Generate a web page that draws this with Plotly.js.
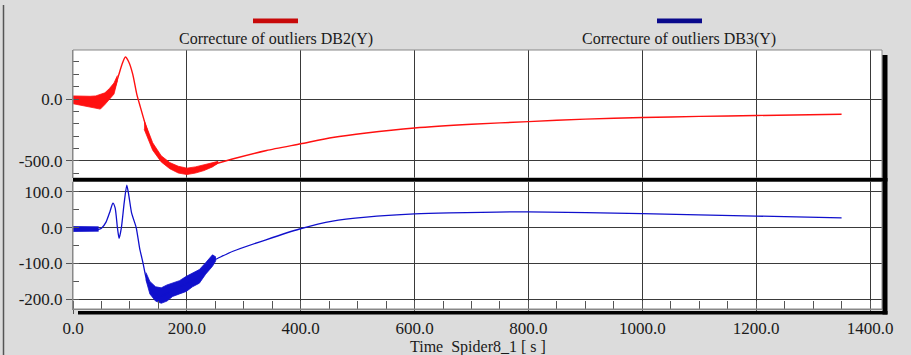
<!DOCTYPE html>
<html>
<head>
<meta charset="utf-8">
<script src="https://cdn.plot.ly/plotly-3.0.1.min.js"></script>
<style>html,body{margin:0;padding:0;background:#dcdcdc;}#chart{width:911px;height:355px;}</style>
</head>
<body>
<div id="chart"></div>
<script>
// ---- data ----
const seriesNames = ["Correcture of outliers DB2(Y)", "Correcture of outliers DB3(Y)"];

// DB2 (red) main curve
const db2X = [0, 20, 40, 50, 60, 70, 80, 86, 92, 98, 105, 112, 118, 128, 140, 152, 164, 180, 200, 222, 245, 280, 340, 400, 456, 515, 600, 700, 800, 900, 1000, 1100, 1200, 1350];
const db2Y = [-5, -15, -25, -25, -5, 50, 190, 280, 340, 300, 200, 40, -60, -220, -385, -478, -532, -570, -585, -560, -532, -486, -417, -363, -312, -275, -235, -205, -183, -163, -150, -141, -134, -123];
// DB2 noisy band near the start
const db2BandAX = [0, 10, 20, 30, 40, 48, 56, 64, 72, 78];
const db2BandAHi = [25, 22, 20, 22, 25, 35, 50, 85, 130, 190];
const db2BandALo = [-38, -48, -56, -65, -75, -82, -45, 0, 40, 150];
// DB2 noisy band around the minimum
const db2BandBX = [125, 140, 155, 170, 185, 200, 215, 230, 245, 255];
const db2BandBHi = [-175, -355, -460, -515, -545, -560, -550, -535, -515, -505];
const db2BandBLo = [-245, -415, -510, -565, -600, -612, -600, -580, -550, -520];

// DB3 (blue) main curve
const db3X = [0, 45, 50, 58, 65, 70, 74, 78, 81, 85, 90, 94.5, 98, 103, 111, 117, 123, 130, 140, 150, 160, 175, 199, 222, 245, 251, 281, 339, 398, 456, 515, 600, 661, 800, 1000, 1200, 1350];
const db3Y = [-5, -5, -2, 15, 45, 68, 55, 0, -30, 0, 70, 118, 90, 40, 0, -57, -99, -150, -178, -190, -188, -173, -157, -136, -92, -88, -66, -34, -4, 18, 29, 38, 41, 44, 39, 32, 27];
// DB3 noisy bands
const db3BandAX = [0, 15, 30, 45];
const db3BandAHi = [3, 2, 3, 2];
const db3BandALo = [-11, -10, -11, -10];
const db3BandBX = [128, 135, 145, 155, 165, 175, 187, 199, 210, 222, 233, 245, 251];
const db3BandBHi = [-125, -150, -165, -168, -160, -155, -148, -136, -128, -117, -98, -76, -82];
const db3BandBLo = [-145, -185, -205, -211, -205, -192, -185, -178, -165, -155, -130, -108, -92];

// tick labels
const xTickVals = [0, 200, 400, 600, 800, 1000, 1200, 1400];
const xTickText = ["0.0", "200.0", "400.0", "600.0", "800.0", "1000.0", "1200.0", "1400.0"];
const y1TickVals = [0, -500];
const y1TickText = ["0.0", "-500.0"];
const y2TickVals = [100, 0, -100, -200];
const y2TickText = ["100.0", "0.0", "-100.0", "-200.0"];
const xTitle = "Time  Spider8_1 [ s ]";

// ---- styling ----
const RED = "#ff1010";
const BLUE = "#1010cc";
const SERIF = "Liberation Serif";
const TEXTFONT = {family: SERIF, size: 16, color: "#1a1a1a"};

function band(x, lo, hi, color, yaxis) {
  return [
    {x: x, y: lo, type: "scatter", mode: "lines", line: {color: color, width: 0.8}, yaxis: yaxis, hoverinfo: "skip", showlegend: false},
    {x: x, y: hi, type: "scatter", mode: "lines", line: {color: color, width: 0.8}, fill: "tonexty", fillcolor: color, yaxis: yaxis, hoverinfo: "skip", showlegend: false}
  ];
}

const traces = [].concat(
  band(db2BandAX, db2BandALo, db2BandAHi, RED, "y"),
  band(db2BandBX, db2BandBLo, db2BandBHi, RED, "y"),
  [{x: db2X, y: db2Y, type: "scatter", mode: "lines", name: seriesNames[0], line: {color: RED, width: 1.4, shape: "spline", smoothing: 0.6}, yaxis: "y", showlegend: false}],
  band(db3BandAX, db3BandALo, db3BandAHi, BLUE, "y2"),
  band(db3BandBX, db3BandBLo, db3BandBHi, BLUE, "y2"),
  [{x: db3X, y: db3Y, type: "scatter", mode: "lines", name: seriesNames[1], line: {color: BLUE, width: 1.3, shape: "spline", smoothing: 0.6}, yaxis: "y2", showlegend: false}]
);

const plotW = 911 - 73 - 29, plotH = 355 - 50 - 46;
const px = v => (v - 73) / plotW;          // page x -> paper x
const py = v => (355 - 46 - v) / plotH;    // page y -> paper y

const topLo = py(178), botHi = py(181.5);

const gridC = "#3a3a3a", tickC = "#555";
const layout = {
  width: 911, height: 355,
  margin: {l: 73, r: 29, t: 50, b: 46},
  paper_bgcolor: "#dcdcdc",
  plot_bgcolor: "#ffffff",
  font: {family: SERIF, size: 17, color: "#1a1a1a"},
  showlegend: false,
  xaxis: {
    anchor: "y2", domain: [0, 1], range: [0, 1421],
    tickmode: "array", tickvals: xTickVals, ticktext: xTickText,
    ticks: "outside", ticklen: 4, tickcolor: tickC,
    showgrid: true, gridcolor: gridC, gridwidth: 1,
    zeroline: false, showline: true, linecolor: "#888",
    minor: {tickmode: "linear", tick0: 0, dtick: 50, ticks: "inside", ticklen: 8, tickcolor: tickC, showgrid: false}
  },
  yaxis: {
    domain: [topLo, 1], range: [-640, 397], anchor: "x",
    tickmode: "array", tickvals: y1TickVals, ticktext: y1TickText,
    ticks: "outside", ticklen: 6, tickcolor: tickC,
    showgrid: true, gridcolor: gridC, zeroline: false,
    showline: true, linecolor: "#888",
    minor: {tickmode: "linear", tick0: 0, dtick: 100, ticks: "inside", ticklen: 6, tickcolor: tickC, showgrid: false}
  },
  yaxis2: {
    domain: [0, botHi], range: [-227, 128.4], anchor: "x",
    tickmode: "array", tickvals: y2TickVals, ticktext: y2TickText,
    ticks: "outside", ticklen: 6, tickcolor: tickC,
    showgrid: true, gridcolor: gridC, zeroline: false,
    showline: true, linecolor: "#888",
    minor: {tickmode: "linear", tick0: 0, dtick: 50, ticks: "inside", ticklen: 6, tickcolor: tickC, showgrid: false}
  },
  shapes: [
    // panel outlines
    {type: "rect", xref: "paper", yref: "paper", x0: 0, x1: 1, y0: topLo, y1: 1, line: {color: "#888", width: 1}, layer: "above"},
    {type: "rect", xref: "paper", yref: "paper", x0: 0, x1: 1, y0: 0, y1: botHi, line: {color: "#888", width: 1}, layer: "above"},
    // black separator and drop shadow
    {type: "rect", xref: "paper", yref: "paper", x0: 0, x1: px(887.5), y0: py(181.5), y1: py(178), fillcolor: "#000", line: {width: 0}, layer: "above"},
    {type: "rect", xref: "paper", yref: "paper", x0: px(882.5), x1: px(887.5), y0: py(314.5), y1: py(55), fillcolor: "#000", line: {width: 0}, layer: "above"},
    {type: "rect", xref: "paper", yref: "paper", x0: px(78), x1: px(887.5), y0: py(314.5), y1: py(311), fillcolor: "#000", line: {width: 0}, layer: "above"},
    // outer left frame line
    {type: "line", xref: "paper", yref: "paper", x0: px(3.5), x1: px(3.5), y0: py(355), y1: py(5), line: {color: "#555", width: 1.5}},
    // legend bars
    {type: "rect", xref: "paper", yref: "paper", x0: px(253), x1: px(298), y0: py(23.3), y1: py(18.5), fillcolor: "#c80a0a", line: {width: 0}},
    {type: "rect", xref: "paper", yref: "paper", x0: px(657), x1: px(702), y0: py(23.3), y1: py(18.5), fillcolor: "#0a0a8c", line: {width: 0}}
  ],
  annotations: [
    {xref: "paper", yref: "paper", x: px(275.5), y: py(39.5), text: seriesNames[0], showarrow: false, xanchor: "center", yanchor: "middle", font: TEXTFONT},
    {xref: "paper", yref: "paper", x: px(679), y: py(39.5), text: seriesNames[1], showarrow: false, xanchor: "center", yanchor: "middle", font: TEXTFONT},
    // x-axis title
    {xref: "paper", yref: "paper", x: 0.5, y: py(347), text: xTitle, showarrow: false, xanchor: "center", yanchor: "middle", font: TEXTFONT}
  ]
};

Plotly.newPlot("chart", traces, layout, {staticPlot: true, displayModeBar: false});
</script>
</body>
</html>
